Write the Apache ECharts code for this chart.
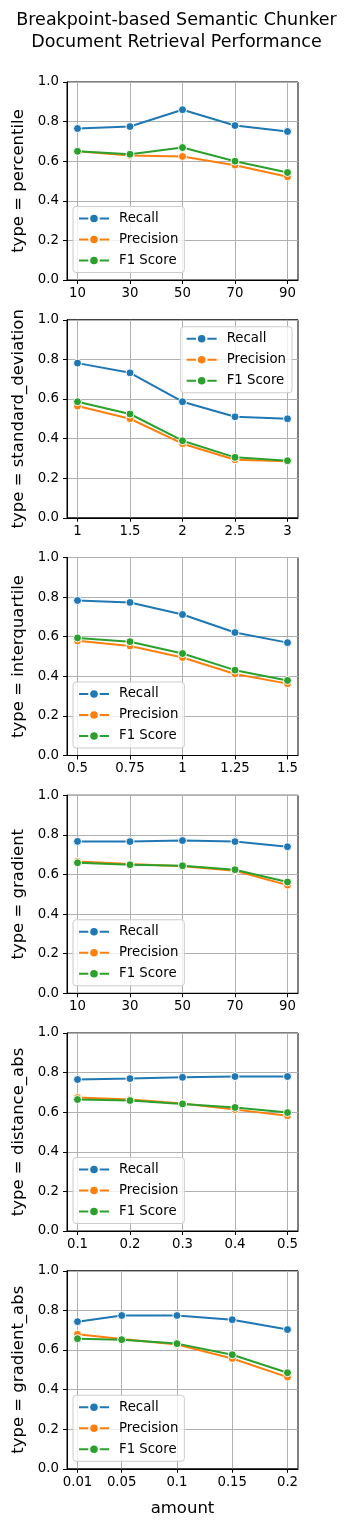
<!DOCTYPE html>
<html>
<head>
<meta charset="utf-8">
<script src="https://cdn.jsdelivr.net/npm/echarts@6/dist/echarts.min.js"></script>
<style>
  html, body { margin: 0; padding: 0; background: #fff; }
  #chart { width: 353px; height: 1525px; }
</style>
</head>
<body>
<div id="chart"></div>
<script>
// one entry per panel (chunker type)
var types = ['percentile', 'standard_deviation', 'interquartile', 'gradient', 'distance_abs', 'gradient_abs'];
var amounts = [
    [10, 30, 50, 70, 90],
    [1, 1.5, 2, 2.5, 3],
    [0.5, 0.75, 1, 1.25, 1.5],
    [10, 30, 50, 70, 90],
    [0.1, 0.2, 0.3, 0.4, 0.5],
    [0.01, 0.05, 0.1, 0.15, 0.2]
];
var recall = [
    [0.765, 0.775, 0.860, 0.780, 0.750],
    [0.781, 0.732, 0.586, 0.510, 0.500],
    [0.783, 0.773, 0.712, 0.621, 0.570],
    [0.767, 0.766, 0.771, 0.766, 0.740],
    [0.765, 0.770, 0.776, 0.780, 0.780],
    [0.743, 0.774, 0.774, 0.753, 0.703]
];
var precision = [
    [0.650, 0.629, 0.624, 0.580, 0.521],
    [0.564, 0.500, 0.374, 0.293, 0.285],
    [0.579, 0.553, 0.495, 0.412, 0.363],
    [0.666, 0.653, 0.642, 0.619, 0.546],
    [0.674, 0.664, 0.644, 0.613, 0.582],
    [0.679, 0.655, 0.628, 0.557, 0.463]
];
var f1 = [
    [0.650, 0.635, 0.669, 0.600, 0.543],
    [0.586, 0.524, 0.389, 0.305, 0.288],
    [0.594, 0.575, 0.515, 0.431, 0.379],
    [0.659, 0.649, 0.644, 0.624, 0.562],
    [0.664, 0.659, 0.642, 0.624, 0.598],
    [0.657, 0.652, 0.632, 0.576, 0.485]
];
var yTicks = [0, 0.2, 0.4, 0.6, 0.8, 1.0];
var seriesNames = ['Recall', 'Precision', 'F1 Score'];
var colors = ['#1f77b4', '#ff7f0e', '#2ca02c'];
// legend placement per panel: 'bl' = lower left, 'tr' = upper right
var legendPos = ['bl', 'tr', 'bl', 'bl', 'bl', 'bl'];

var FONT = 'DejaVu Sans';

function buildChart() {
    var gridTop0 = 82, gridStep = 237.75, gridH = 198, gridL = 67, gridW = 231;
    var chartDom = document.getElementById('chart');
    var myChart = echarts.init(chartDom);

    var grids = [], xAxes = [], yAxes = [], series = [], legends = [];

    for (var i = 0; i < types.length; i++) {
        var gTop = gridTop0 + i * gridStep;
        var xs = amounts[i];
        var span = xs[xs.length - 1] - xs[0];

        grids.push({
            left: gridL, top: gTop, width: gridW, height: gridH,
            show: true, borderColor: '#000', borderWidth: 1,
            backgroundColor: 'transparent',
            containLabel: false, outerBoundsMode: 'none'
        });

        xAxes.push({
            type: 'value', gridIndex: i,
            min: xs[0] - 0.05 * span,
            max: xs[xs.length - 1] + 0.05 * span,
            axisLine: { show: true, onZero: false, lineStyle: { color: '#000', width: 1 } },
            axisTick: { show: true, length: 4, customValues: xs, lineStyle: { color: '#000' } },
            axisLabel: {
                customValues: xs, margin: 7, color: '#000', fontFamily: FONT, fontSize: 13.3,
                formatter: function (v) { return String(+v.toFixed(4)); }
            },
            splitLine: { show: true, lineStyle: { color: '#b0b0b0', width: 1 } },
            name: i === types.length - 1 ? 'amount' : '',
            nameLocation: 'middle', nameGap: 31,
            nameTextStyle: { fontFamily: FONT, fontSize: 16.5, color: '#000' }
        });

        yAxes.push({
            type: 'value', gridIndex: i, min: yTicks[0], max: yTicks[yTicks.length - 1], interval: 0.2,
            axisLine: { show: true, lineStyle: { color: '#000', width: 1 } },
            axisTick: { show: true, length: 4, lineStyle: { color: '#000' } },
            axisLabel: {
                margin: 8, color: '#000', fontFamily: FONT, fontSize: 13.3,
                showMinLabel: true, showMaxLabel: true, hideOverlap: false,
                formatter: function (v) { return v.toFixed(1); }
            },
            splitLine: { show: true, lineStyle: { color: '#b0b0b0', width: 1 } },
            name: 'type = ' + types[i],
            nameLocation: 'middle', nameGap: 40, nameRotate: 90,
            nameTextStyle: { fontFamily: FONT, fontSize: 16.5, color: '#000' }
        });

        var vals = [recall[i], precision[i], f1[i]];
        for (var s = 0; s < 3; s++) {
            var pts = [];
            for (var j = 0; j < xs.length; j++) pts.push([xs[j], vals[s][j]]);
            series.push({
                name: seriesNames[s],
                type: 'line',
                xAxisIndex: i, yAxisIndex: i,
                data: pts,
                symbol: 'circle', symbolSize: 8,
                lineStyle: { color: colors[s], width: 2 },
                itemStyle: { color: colors[s], borderColor: '#fff', borderWidth: 1 },
                emphasis: { disabled: true },
                z: 3 + s
            });
        }

        var lg = {
            data: seriesNames, orient: 'vertical',
            itemWidth: 30, itemHeight: 12, itemGap: 7,
            padding: [5, 6, 5, 5],
            backgroundColor: 'rgba(255,255,255,0.8)',
            borderColor: '#cccccc', borderWidth: 1, borderRadius: 3,
            textStyle: { fontFamily: FONT, fontSize: 13.3, color: '#000', lineHeight: 14, padding: [0, 0, 0, 5] },
            selectedMode: false, z: 10
        };
        if (legendPos[i] === 'bl') {
            lg.left = 73; lg.top = gTop + 124.5;
        } else {
            lg.right = 61; lg.top = gTop + 7;
        }
        legends.push(lg);
    }

    var option = {
        animation: false,
        backgroundColor: '#fff',
        title: {
            text: 'Breakpoint-based Semantic Chunker\nDocument Retrieval Performance',
            left: 'center', top: 4,
            textStyle: { fontFamily: FONT, fontSize: 17.5, fontWeight: 'normal', color: '#000', lineHeight: 22 }
        },
        legend: legends,
        grid: grids,
        xAxis: xAxes,
        yAxis: yAxes,
        series: series
    };

    option && myChart.setOption(option);
}

buildChart();
</script>
</body>
</html>
